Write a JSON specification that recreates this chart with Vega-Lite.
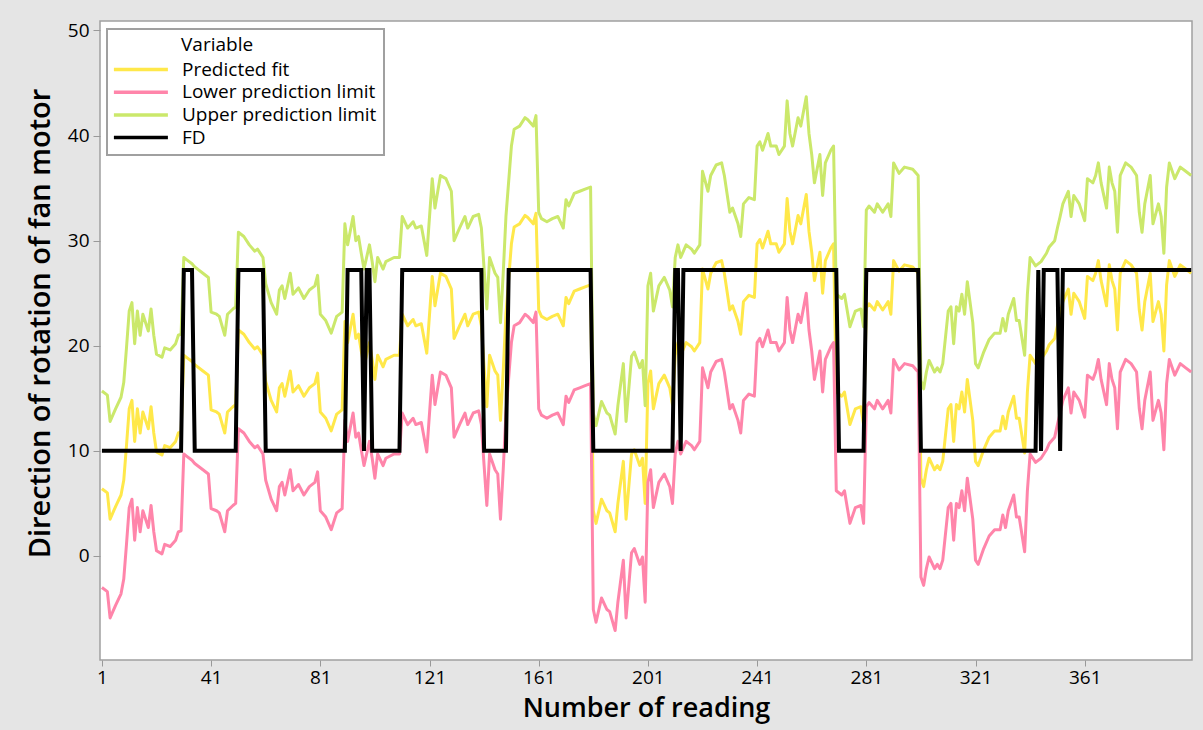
{
"$schema": "https://vega.github.io/schema/vega-lite/v6.json",
"width": 1092, "height": 639,
"autosize": {"type": "none"},
"padding": {"left": 100, "top": 21, "right": 11, "bottom": 70},
"background": "#e5e5e5",
"config": {"view": {"stroke": "#a0a0a0", "strokeWidth": 1.5, "fill": "white"}, "font": "Open Sans"},
"datasets": {
"band": [
{"r":1,"fit":6.4,"lo":-3.0,"up":15.7},{"r":3,"fit":6.0,"lo":-3.4,"up":15.3},{"r":4,"fit":3.5,"lo":-5.9,"up":12.8},{"r":6,"fit":4.7,"lo":-4.7,"up":14.0},{"r":8,"fit":5.8,"lo":-3.6,"up":15.1},{"r":9,"fit":7.2,"lo":-2.2,"up":16.5},{"r":10,"fit":10.5,"lo":1.1,"up":19.8},{"r":11,"fit":14.0,"lo":4.6,"up":23.3},{"r":12,"fit":14.8,"lo":5.4,"up":24.1},{"r":13,"fit":10.9,"lo":1.5,"up":20.2},{"r":14,"fit":14.0,"lo":4.6,"up":23.3},{"r":15,"fit":11.7,"lo":2.3,"up":21.0},{"r":16,"fit":13.7,"lo":4.3,"up":23.0},{"r":18,"fit":12.1,"lo":2.7,"up":21.4},{"r":19,"fit":14.2,"lo":4.8,"up":23.5},{"r":20,"fit":11.7,"lo":2.3,"up":21.0},{"r":21,"fit":9.9,"lo":0.5,"up":19.2},{"r":23,"fit":9.6,"lo":0.2,"up":18.9},{"r":24,"fit":10.5,"lo":1.1,"up":19.8},{"r":26,"fit":10.3,"lo":0.9,"up":19.6},{"r":28,"fit":10.9,"lo":1.5,"up":20.2},{"r":29,"fit":11.7,"lo":2.3,"up":21.0},{"r":30,"fit":11.8,"lo":2.4,"up":21.1},
{"r":31,"fit":19.1,"lo":9.7,"up":28.4},{"r":32,"fit":18.9,"lo":9.5,"up":28.2},{"r":34,"fit":18.5,"lo":9.1,"up":27.8},{"r":35,"fit":18.2,"lo":8.8,"up":27.5},{"r":38,"fit":17.6,"lo":8.2,"up":26.9},{"r":40,"fit":17.2,"lo":7.8,"up":26.5},{"r":41,"fit":13.9,"lo":4.5,"up":23.2},{"r":43,"fit":13.7,"lo":4.3,"up":23.0},{"r":44,"fit":13.5,"lo":4.1,"up":22.8},{"r":46,"fit":11.7,"lo":2.3,"up":21.0},{"r":47,"fit":13.7,"lo":4.3,"up":23.0},{"r":49,"fit":14.2,"lo":4.8,"up":23.5},{"r":50,"fit":14.4,"lo":5.0,"up":23.7},
{"r":51,"fit":21.5,"lo":12.1,"up":30.8},{"r":53,"fit":21.1,"lo":11.7,"up":30.4},{"r":55,"fit":20.3,"lo":10.9,"up":29.6},{"r":57,"fit":19.7,"lo":10.3,"up":29.0},{"r":58,"fit":19.9,"lo":10.5,"up":29.2},{"r":60,"fit":19.1,"lo":9.7,"up":28.4},{"r":61,"fit":16.6,"lo":7.2,"up":25.9},{"r":63,"fit":14.8,"lo":5.4,"up":24.1},{"r":65,"fit":13.7,"lo":4.3,"up":23.0},{"r":66,"fit":16.0,"lo":6.6,"up":25.3},{"r":67,"fit":16.4,"lo":7.0,"up":25.7},{"r":68,"fit":15.2,"lo":5.8,"up":24.5},{"r":70,"fit":17.6,"lo":8.2,"up":26.9},{"r":71,"fit":15.6,"lo":6.2,"up":24.9},{"r":73,"fit":16.2,"lo":6.8,"up":25.5},{"r":75,"fit":15.2,"lo":5.8,"up":24.5},{"r":77,"fit":16.0,"lo":6.6,"up":25.3},{"r":79,"fit":16.4,"lo":7.0,"up":25.7},{"r":80,"fit":17.4,"lo":8.0,"up":26.7},
{"r":81,"fit":13.7,"lo":4.3,"up":23.0},{"r":83,"fit":13.1,"lo":3.7,"up":22.4},{"r":85,"fit":11.9,"lo":2.5,"up":21.2},{"r":87,"fit":13.5,"lo":4.1,"up":22.8},{"r":89,"fit":13.9,"lo":4.5,"up":23.2},{"r":90,"fit":22.3,"lo":12.9,"up":31.6},{"r":91,"fit":20.3,"lo":10.9,"up":29.6},{"r":93,"fit":23.0,"lo":13.6,"up":32.3},{"r":94,"fit":20.7,"lo":11.3,"up":30.0},{"r":95,"fit":21.1,"lo":11.7,"up":30.4},{"r":96,"fit":19.5,"lo":10.1,"up":28.8},{"r":97,"fit":18.0,"lo":8.6,"up":27.3},{"r":99,"fit":20.3,"lo":10.9,"up":29.6},{"r":100,"fit":18.7,"lo":9.3,"up":28.0},
{"r":101,"fit":16.8,"lo":7.4,"up":26.1},{"r":102,"fit":19.1,"lo":9.7,"up":28.4},{"r":104,"fit":18.0,"lo":8.6,"up":27.3},{"r":105,"fit":18.7,"lo":9.3,"up":28.0},{"r":108,"fit":19.1,"lo":9.7,"up":28.4},{"r":110,"fit":19.1,"lo":9.7,"up":28.4},{"r":111,"fit":23.0,"lo":13.6,"up":32.3},{"r":113,"fit":21.9,"lo":12.5,"up":31.2},{"r":115,"fit":22.5,"lo":13.1,"up":31.8},{"r":116,"fit":21.9,"lo":12.5,"up":31.2},{"r":118,"fit":22.1,"lo":12.7,"up":31.4},{"r":120,"fit":19.3,"lo":9.9,"up":28.6},
{"r":122,"fit":26.6,"lo":17.2,"up":35.9},{"r":123,"fit":23.8,"lo":14.4,"up":33.1},{"r":125,"fit":26.9,"lo":17.5,"up":36.2},{"r":127,"fit":26.6,"lo":17.2,"up":35.9},{"r":129,"fit":25.4,"lo":16.0,"up":34.7},{"r":130,"fit":20.7,"lo":11.3,"up":30.0},{"r":132,"fit":21.9,"lo":12.5,"up":31.2},{"r":134,"fit":23.0,"lo":13.6,"up":32.3},{"r":135,"fit":21.9,"lo":12.5,"up":31.2},{"r":137,"fit":23.0,"lo":13.6,"up":32.3},{"r":139,"fit":23.2,"lo":13.8,"up":32.5},{"r":140,"fit":21.9,"lo":12.5,"up":31.2},
{"r":141,"fit":18.0,"lo":8.6,"up":27.3},{"r":142,"fit":14.2,"lo":4.8,"up":23.5},{"r":143,"fit":19.1,"lo":9.7,"up":28.4},{"r":145,"fit":17.6,"lo":8.2,"up":26.9},{"r":146,"fit":17.2,"lo":7.8,"up":26.5},{"r":147,"fit":12.9,"lo":3.5,"up":22.2},{"r":148,"fit":17.6,"lo":8.2,"up":26.9},{"r":149,"fit":23.0,"lo":13.6,"up":32.3},{"r":151,"fit":29.7,"lo":20.3,"up":39.0},{"r":152,"fit":31.3,"lo":21.9,"up":40.6},{"r":154,"fit":31.6,"lo":22.2,"up":40.9},{"r":156,"fit":32.4,"lo":23.0,"up":41.7},{"r":157,"fit":32.2,"lo":22.8,"up":41.5},{"r":159,"fit":31.6,"lo":22.2,"up":40.9},{"r":160,"fit":32.6,"lo":23.2,"up":41.9},
{"r":161,"fit":23.4,"lo":14.0,"up":32.7},{"r":162,"fit":22.8,"lo":13.4,"up":32.1},{"r":164,"fit":22.5,"lo":13.1,"up":31.8},{"r":166,"fit":22.8,"lo":13.4,"up":32.1},{"r":168,"fit":23.0,"lo":13.6,"up":32.3},{"r":170,"fit":21.9,"lo":12.5,"up":31.2},{"r":171,"fit":24.6,"lo":15.2,"up":33.9},{"r":172,"fit":24.0,"lo":14.6,"up":33.3},{"r":174,"fit":25.2,"lo":15.8,"up":34.5},{"r":176,"fit":25.4,"lo":16.0,"up":34.7},{"r":178,"fit":25.6,"lo":16.2,"up":34.9},{"r":180,"fit":25.8,"lo":16.4,"up":35.1},
{"r":181,"fit":4.3,"lo":-5.1,"up":13.6},{"r":182,"fit":3.1,"lo":-6.3,"up":12.4},{"r":184,"fit":5.4,"lo":-4.0,"up":14.7},{"r":186,"fit":4.3,"lo":-5.1,"up":13.6},{"r":187,"fit":4.1,"lo":-5.3,"up":13.4},{"r":189,"fit":2.3,"lo":-7.1,"up":11.6},{"r":190,"fit":5.0,"lo":-4.4,"up":14.3},{"r":192,"fit":9.0,"lo":-0.4,"up":18.3},{"r":193,"fit":3.5,"lo":-5.9,"up":12.8},{"r":195,"fit":9.7,"lo":0.3,"up":19.0},{"r":196,"fit":10.1,"lo":0.7,"up":19.4},{"r":198,"fit":8.6,"lo":-0.8,"up":17.9},{"r":199,"fit":9.3,"lo":-0.1,"up":18.6},{"r":200,"fit":5.0,"lo":-4.4,"up":14.3},
{"r":201,"fit":16.4,"lo":7.0,"up":25.7},{"r":202,"fit":17.6,"lo":8.2,"up":26.9},{"r":203,"fit":14.0,"lo":4.6,"up":23.3},{"r":205,"fit":16.4,"lo":7.0,"up":25.7},{"r":207,"fit":17.2,"lo":7.8,"up":26.5},{"r":209,"fit":16.0,"lo":6.6,"up":25.3},{"r":210,"fit":14.4,"lo":5.0,"up":23.7},{"r":211,"fit":19.1,"lo":9.7,"up":28.4},{"r":212,"fit":20.3,"lo":10.9,"up":29.6},{"r":213,"fit":19.1,"lo":9.7,"up":28.4},{"r":215,"fit":20.3,"lo":10.9,"up":29.6},{"r":217,"fit":19.9,"lo":10.5,"up":29.2},{"r":218,"fit":19.5,"lo":10.1,"up":28.8},{"r":220,"fit":20.3,"lo":10.9,"up":29.6},
{"r":221,"fit":27.3,"lo":17.9,"up":36.6},{"r":223,"fit":25.4,"lo":16.0,"up":34.7},{"r":224,"fit":26.9,"lo":17.5,"up":36.2},{"r":226,"fit":27.9,"lo":18.5,"up":37.2},{"r":228,"fit":28.1,"lo":18.7,"up":37.4},{"r":229,"fit":26.9,"lo":17.5,"up":36.2},{"r":231,"fit":23.4,"lo":14.0,"up":32.7},{"r":232,"fit":23.8,"lo":14.4,"up":33.1},{"r":234,"fit":22.3,"lo":12.9,"up":31.6},{"r":235,"fit":21.1,"lo":11.7,"up":30.4},{"r":236,"fit":24.2,"lo":14.8,"up":33.5},{"r":238,"fit":24.8,"lo":15.4,"up":34.1},{"r":240,"fit":24.6,"lo":15.2,"up":33.9},
{"r":241,"fit":29.7,"lo":20.3,"up":39.0},{"r":242,"fit":30.1,"lo":20.7,"up":39.4},{"r":243,"fit":29.3,"lo":19.9,"up":38.6},{"r":245,"fit":30.9,"lo":21.5,"up":40.2},{"r":246,"fit":29.7,"lo":20.3,"up":39.0},{"r":248,"fit":29.7,"lo":20.3,"up":39.0},{"r":249,"fit":28.9,"lo":19.5,"up":38.2},{"r":251,"fit":29.7,"lo":20.3,"up":39.0},{"r":252,"fit":34.0,"lo":24.6,"up":43.3},{"r":253,"fit":30.9,"lo":21.5,"up":40.2},{"r":254,"fit":29.7,"lo":20.3,"up":39.0},{"r":256,"fit":32.4,"lo":23.0,"up":41.7},{"r":257,"fit":31.6,"lo":22.2,"up":40.9},{"r":259,"fit":34.4,"lo":25.0,"up":43.7},{"r":260,"fit":30.9,"lo":21.5,"up":40.2},
{"r":261,"fit":28.9,"lo":19.5,"up":38.2},{"r":262,"fit":26.2,"lo":16.8,"up":35.5},{"r":264,"fit":28.9,"lo":19.5,"up":38.2},{"r":265,"fit":25.0,"lo":15.6,"up":34.3},{"r":266,"fit":28.1,"lo":18.7,"up":37.4},{"r":268,"fit":29.3,"lo":19.9,"up":38.6},{"r":269,"fit":29.7,"lo":20.3,"up":39.0},{"r":270,"fit":15.6,"lo":6.2,"up":24.9},{"r":272,"fit":15.2,"lo":5.8,"up":24.5},{"r":273,"fit":15.6,"lo":6.2,"up":24.9},{"r":275,"fit":12.5,"lo":3.1,"up":21.8},{"r":277,"fit":14.0,"lo":4.6,"up":23.3},{"r":279,"fit":14.2,"lo":4.8,"up":23.5},{"r":280,"fit":12.5,"lo":3.1,"up":21.8},
{"r":281,"fit":23.6,"lo":14.2,"up":32.9},{"r":282,"fit":24.0,"lo":14.6,"up":33.3},{"r":284,"fit":23.4,"lo":14.0,"up":32.7},{"r":285,"fit":24.2,"lo":14.8,"up":33.5},{"r":287,"fit":23.4,"lo":14.0,"up":32.7},{"r":289,"fit":24.2,"lo":14.8,"up":33.5},{"r":290,"fit":23.0,"lo":13.6,"up":32.3},{"r":291,"fit":28.1,"lo":18.7,"up":37.4},{"r":293,"fit":27.1,"lo":17.7,"up":36.4},{"r":295,"fit":27.7,"lo":18.3,"up":37.0},{"r":298,"fit":27.5,"lo":18.1,"up":36.8},{"r":300,"fit":26.9,"lo":17.5,"up":36.2},
{"r":301,"fit":7.4,"lo":-2.0,"up":16.7},{"r":302,"fit":6.6,"lo":-2.8,"up":15.9},{"r":303,"fit":8.2,"lo":-1.2,"up":17.5},{"r":304,"fit":9.3,"lo":-0.1,"up":18.6},{"r":306,"fit":8.2,"lo":-1.2,"up":17.5},{"r":307,"fit":8.6,"lo":-0.8,"up":17.9},{"r":308,"fit":8.2,"lo":-1.2,"up":17.5},{"r":309,"fit":9.0,"lo":-0.4,"up":18.3},{"r":311,"fit":14.0,"lo":4.6,"up":23.3},{"r":312,"fit":14.4,"lo":5.0,"up":23.7},{"r":313,"fit":10.9,"lo":1.5,"up":20.2},{"r":314,"fit":14.4,"lo":5.0,"up":23.7},{"r":315,"fit":14.0,"lo":4.6,"up":23.3},{"r":316,"fit":15.6,"lo":6.2,"up":24.9},{"r":317,"fit":13.7,"lo":4.3,"up":23.0},{"r":318,"fit":16.8,"lo":7.4,"up":26.1},{"r":320,"fit":12.9,"lo":3.5,"up":22.2},
{"r":321,"fit":9.0,"lo":-0.4,"up":18.3},{"r":322,"fit":8.6,"lo":-0.8,"up":17.9},{"r":324,"fit":10.1,"lo":0.7,"up":19.4},{"r":326,"fit":11.3,"lo":1.9,"up":20.6},{"r":328,"fit":11.9,"lo":2.5,"up":21.2},{"r":330,"fit":11.9,"lo":2.5,"up":21.2},{"r":331,"fit":13.3,"lo":3.9,"up":22.6},{"r":332,"fit":12.1,"lo":2.7,"up":21.4},{"r":333,"fit":13.7,"lo":4.3,"up":23.0},{"r":335,"fit":15.2,"lo":5.8,"up":24.5},{"r":336,"fit":13.1,"lo":3.7,"up":22.4},{"r":337,"fit":13.1,"lo":3.7,"up":22.4},{"r":339,"fit":9.8,"lo":0.4,"up":19.1},{"r":340,"fit":15.6,"lo":6.2,"up":24.9},
{"r":341,"fit":19.1,"lo":9.7,"up":28.4},{"r":343,"fit":18.3,"lo":8.9,"up":27.6},{"r":345,"fit":18.7,"lo":9.3,"up":28.0},{"r":347,"fit":19.5,"lo":10.1,"up":28.8},{"r":348,"fit":20.1,"lo":10.7,"up":29.4},{"r":350,"fit":20.7,"lo":11.3,"up":30.0},{"r":351,"fit":21.9,"lo":12.5,"up":31.2},{"r":352,"fit":23.0,"lo":13.6,"up":32.3},{"r":353,"fit":24.2,"lo":14.8,"up":33.5},{"r":355,"fit":25.4,"lo":16.0,"up":34.7},{"r":356,"fit":23.0,"lo":13.6,"up":32.3},{"r":357,"fit":25.0,"lo":15.6,"up":34.3},{"r":359,"fit":24.2,"lo":14.8,"up":33.5},
{"r":361,"fit":22.6,"lo":13.2,"up":31.9},{"r":362,"fit":26.6,"lo":17.2,"up":35.9},{"r":364,"fit":26.2,"lo":16.8,"up":35.5},{"r":365,"fit":26.9,"lo":17.5,"up":36.2},{"r":366,"fit":28.1,"lo":18.7,"up":37.4},{"r":367,"fit":26.2,"lo":16.8,"up":35.5},{"r":369,"fit":23.8,"lo":14.4,"up":33.1},{"r":370,"fit":27.7,"lo":18.3,"up":37.0},{"r":371,"fit":26.2,"lo":16.8,"up":35.5},{"r":372,"fit":25.4,"lo":16.0,"up":34.7},{"r":373,"fit":21.5,"lo":12.1,"up":30.8},{"r":374,"fit":26.9,"lo":17.5,"up":36.2},{"r":376,"fit":28.1,"lo":18.7,"up":37.4},{"r":378,"fit":27.7,"lo":18.3,"up":37.0},{"r":380,"fit":26.9,"lo":17.5,"up":36.2},
{"r":381,"fit":23.4,"lo":14.0,"up":32.7},{"r":382,"fit":21.5,"lo":12.1,"up":30.8},{"r":383,"fit":24.2,"lo":14.8,"up":33.5},{"r":385,"fit":26.9,"lo":17.5,"up":36.2},{"r":386,"fit":22.3,"lo":12.9,"up":31.6},{"r":388,"fit":24.2,"lo":14.8,"up":33.5},{"r":389,"fit":23.0,"lo":13.6,"up":32.3},{"r":390,"fit":19.5,"lo":10.1,"up":28.8},{"r":391,"fit":25.8,"lo":16.4,"up":35.1},{"r":392,"fit":28.1,"lo":18.7,"up":37.4},{"r":394,"fit":26.6,"lo":17.2,"up":35.9},{"r":396,"fit":27.7,"lo":18.3,"up":37.0},{"r":398,"fit":27.3,"lo":17.9,"up":36.6},{"r":400,"fit":26.9,"lo":17.5,"up":36.2}
],
"fd": [
{"r":1,"FD":10},{"r":30,"FD":10},{"r":31,"FD":27.2},{"r":34,"FD":27.2},{"r":35,"FD":10},{"r":50,"FD":10},{"r":51,"FD":27.2},{"r":60,"FD":27.2},{"r":61,"FD":10},{"r":90,"FD":10},{"r":91,"FD":27.2},{"r":96,"FD":27.2},{"r":97,"FD":10},{"r":98,"FD":27.2},{"r":99,"FD":27.2},{"r":100,"FD":10},{"r":110,"FD":10},{"r":111,"FD":27.2},{"r":140,"FD":27.2},{"r":141,"FD":10},{"r":149,"FD":10},{"r":150,"FD":27.2},{"r":180,"FD":27.2},{"r":181,"FD":10},{"r":210,"FD":10},{"r":211,"FD":27.2},{"r":212,"FD":27.2},{"r":213,"FD":10},{"r":214,"FD":27.2},{"r":270,"FD":27.2},{"r":271,"FD":10},{"r":280,"FD":10},{"r":281,"FD":27.2},{"r":300,"FD":27.2},{"r":301,"FD":10},{"r":343,"FD":10},{"r":344,"FD":27.2},{"r":345,"FD":10},{"r":346,"FD":27.2},{"r":351,"FD":27.2},{"r":352,"FD":10},{"r":353,"FD":27.2},{"r":400,"FD":27.2}
]
},
"encoding": {
  "x": {"field": "r", "type": "quantitative",
    "scale": {"domain": [0.3, 400.3], "nice": false, "zero": false},
    "axis": {"values": [1, 41, 81, 121, 161, 201, 241, 281, 321, 361], "grid": false, "domain": false,
      "tickSize": 6, "tickColor": "#999999", "labelPadding": 2, "labelFontSize": 19, "labelColor": "#000000",
      "title": "Number of reading", "titleFontSize": 27, "titleFontWeight": 600, "titleColor": "#000000",
      "titleBaseline": "alphabetic", "titleY": 56}},
  "y": {"field": "value", "type": "quantitative",
    "scale": {"domain": [-9.9, 50.9], "nice": false, "zero": false},
    "axis": {"values": [0, 10, 20, 30, 40, 50], "grid": false, "domain": false,
      "tickSize": 7, "tickColor": "#999999", "labelPadding": 4, "labelFontSize": 19, "labelColor": "#000000",
      "title": "Direction of rotation of fan motor", "titleFontSize": 29, "titleFontWeight": 600, "titleColor": "#000000",
      "titleAngle": 270, "titleAlign": "center", "titleBaseline": "alphabetic", "titleX": -51, "titleY": 302}},
  "color": {"field": "Variable", "type": "nominal",
    "scale": {"domain": ["fit", "lo", "up", "FD"], "range": ["#ffe84a", "#ff85aa", "#cbe86b", "#000000"]},
    "legend": {"orient": "none", "legendX": 7, "legendY": 8, "title": "Variable",
      "titleFontSize": 19, "titleFontWeight": "normal", "titleColor": "#000000", "titleAnchor": "start", "titlePadding": 5,
      "labelFontSize": 19, "labelColor": "#000000", "labelOffset": 49, "labelLimit": 400,
      "labelExpr": "datum.label == 'fit' ? 'Predicted fit' : datum.label == 'lo' ? 'Lower prediction limit' : datum.label == 'up' ? 'Upper prediction limit' : 'FD'",
      "symbolType": "M-1.6,0H7.4", "symbolSize": 144, "symbolStrokeWidth": 3.5, "rowPadding": 2.7,
      "padding": 7, "fillColor": "#ffffff", "strokeColor": "#a0a0a0",
      "encode": {"legend": {"update": {"strokeWidth": {"value": 2}}}, "title": {"update": {"dx": {"value": 67}}}}}}
},
"layer": [
  {"data": {"name": "band"},
   "transform": [{"fold": ["fit", "lo", "up"], "as": ["Variable", "value"]}],
   "mark": {"type": "line", "strokeWidth": 3, "strokeJoin": "round"}},
  {"data": {"name": "fd"},
   "transform": [{"fold": ["FD"], "as": ["Variable", "value"]}],
   "mark": {"type": "line", "strokeWidth": 4, "strokeJoin": "miter"}}
]
}
